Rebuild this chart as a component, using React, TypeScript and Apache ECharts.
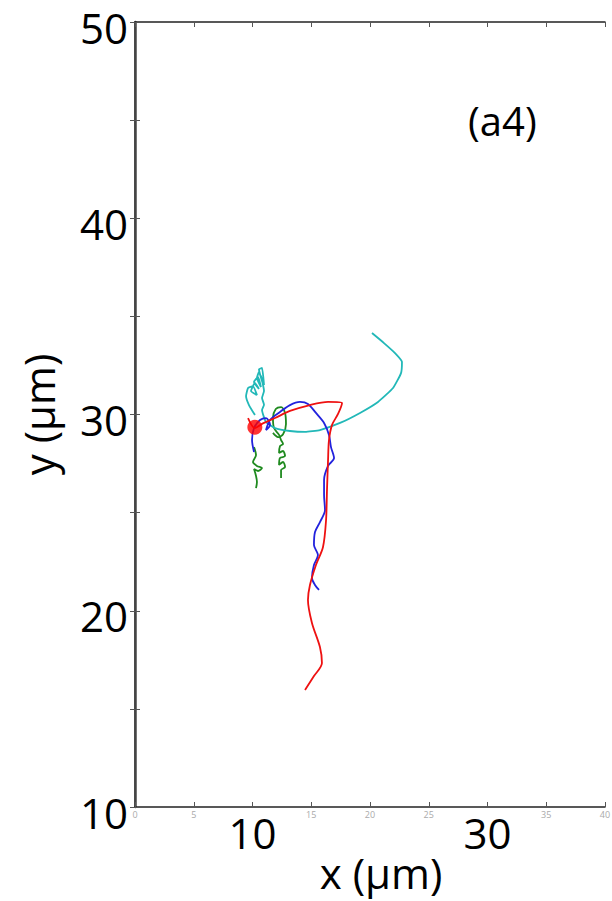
import React, { useEffect, useRef } from "react";
import * as echarts from "echarts";

// axis ticks / labels
const xSmallLabels = [0, 5, 15, 20, 25, 35, 40];
const xBigLabels = [10, 30];
const yBigLabels = [10, 20, 30, 40, 50];

// trajectories (µm)
const redX = [9.62, 10.21, 10.81, 11.91, 13.19, 14.89, 16.43, 17.62, 17.28, 16.77, 16.51, 16.43, 16.34, 16.26, 16.0, 15.4, 14.89, 14.72, 15.06, 15.74, 15.91, 15.23, 14.47];
const redY = [29.82, 29.31, 29.52, 29.82, 30.18, 30.48, 30.64, 30.59, 30.03, 29.47, 28.7, 27.68, 26.15, 24.62, 23.25, 22.33, 21.31, 20.55, 19.38, 18.15, 17.34, 16.67, 15.96];

const blueX = [10.13, 9.96, 10.13, 10.64, 11.15, 11.49, 11.15, 11.49, 12.34, 13.19, 14.04, 14.72, 15.4, 16.09, 16.51, 16.68, 16.94, 16.43, 16.09, 16.09, 16.17, 15.74, 15.32, 15.23, 15.57, 15.23, 15.06, 15.32, 15.66];
const blueY = [28.09, 28.7, 29.31, 29.72, 29.82, 29.47, 29.21, 29.72, 30.13, 30.48, 30.64, 30.54, 30.08, 29.57, 28.96, 28.34, 27.78, 27.38, 26.66, 25.9, 25.13, 24.52, 24.01, 23.35, 22.84, 22.33, 21.67, 21.31, 21.06];

const cyanX = [10.21, 9.7, 9.45, 9.62, 10.04, 10.38, 9.87, 10.21, 10.55, 10.13, 10.47, 10.72, 10.38, 10.55, 10.81, 10.55, 10.81, 10.98, 10.72, 10.98, 10.81, 10.98, 10.81, 11.15, 11.91, 13.19, 14.47, 15.74, 17.45, 19.15, 20.68, 21.96, 22.64, 22.72, 22.13, 21.19, 20.17];
const cyanY = [29.97, 30.48, 30.94, 31.35, 31.45, 30.99, 31.2, 31.61, 31.3, 31.66, 31.91, 31.4, 31.86, 32.17, 31.7, 32.3, 32.37, 31.5, 31.96, 31.2, 30.84, 30.5, 30.23, 29.62, 29.31, 29.16, 29.11, 29.21, 29.57, 30.08, 30.64, 31.35, 32.11, 32.68, 33.13, 33.64, 34.15];

const greenRX = [12.43, 12.43, 12.77, 12.6, 12.26, 12.34, 12.77, 12.6, 12.26, 12.34, 12.6, 12.43, 12.26, 11.83, 11.74, 11.98, 12.43, 12.77, 12.85, 12.6, 12.17, 11.74];
const greenRY = [26.76, 27.17, 27.32, 27.58, 27.43, 27.78, 27.88, 28.14, 28.04, 28.39, 28.5, 28.7, 28.96, 29.31, 29.82, 30.28, 30.38, 30.08, 29.52, 28.99, 28.85, 29.06];

const greenLX = [10.13, 10.3, 10.04, 10.38, 10.81, 10.47, 10.13, 10.3, 10.38, 10.3];
const greenLY = [28.34, 27.93, 27.58, 27.38, 27.27, 27.12, 27.22, 26.87, 26.56, 26.25];

const startX = [10.2];
const startY = [29.35];

const zip = (xs: number[], ys: number[]) => xs.map((x, i) => [x, ys[i]]);

const FONT = "Open Sans";

export default function App() {
  const ref = useRef<HTMLDivElement>(null);
  useEffect(() => {
    document.body.style.margin = "0";
    const chart = echarts.init(ref.current!, null, { renderer: "svg" });
    const line = (name: string, data: number[][], color: string, smooth = 0.3) => ({
      name,
      type: "line",
      data,
      showSymbol: false,
      smooth,
      xAxisIndex: 0,
      yAxisIndex: 0,
      lineStyle: { color, width: 1.8 },
      itemStyle: { color },
      z: 3,
    });
    chart.setOption({
      animation: false,
      backgroundColor: "#ffffff",
      grid: { left: 135, right: 7, top: 22, bottom: 94, show: false, outerBoundsMode: "none" },
      xAxis: [
        {
          type: "value",
          position: "bottom",
          min: 0,
          max: 40,
          interval: 5,
          axisLine: { show: true, lineStyle: { color: "#222", width: 1.5 } },
          axisTick: { show: true, inside: true, length: 5, lineStyle: { color: "#555" } },
          axisLabel: {
            fontSize: 9,
            color: "#aaa",
            margin: 3,
            fontFamily: FONT,
            formatter: (v: number) => (xSmallLabels.includes(v) ? String(v) : ""),
          },
          splitLine: { show: false },
          name: "x (µm)",
          nameLocation: "middle",
          nameGap: 44,
          nameTextStyle: { fontSize: 42, color: "#000", fontFamily: FONT, padding: [0, 0, 0, 22] },
        },
        {
          type: "value",
          position: "bottom",
          min: 0,
          max: 40,
          interval: 10,
          axisLine: { show: false },
          axisTick: { show: false },
          splitLine: { show: false },
          axisLabel: {
            fontSize: 42,
            color: "#000",
            margin: 4,
            fontFamily: FONT,
            formatter: (v: number) => (xBigLabels.includes(v) ? String(v) : ""),
          },
        },
        {
          type: "value",
          position: "top",
          min: 0,
          max: 40,
          interval: 5,
          axisLine: { show: true, lineStyle: { color: "#222", width: 1.5 } },
          axisTick: { show: true, inside: true, length: 5, lineStyle: { color: "#555" } },
          axisLabel: { show: false },
          splitLine: { show: false },
        },
      ],
      yAxis: [
        {
          type: "value",
          position: "left",
          min: 10,
          max: 50,
          interval: 5,
          axisLine: { show: true, lineStyle: { color: "#222", width: 1.5 } },
          axisTick: { show: true, inside: true, length: 5, lineStyle: { color: "#555" } },
          axisLabel: {
            color: "#000",
            margin: 7,
            formatter: (v: number) => (yBigLabels.includes(v) ? "{n|" + v + "}" : ""),
            rich: {
              n: { fontSize: 42, lineHeight: 30, color: "#000", fontFamily: FONT, padding: [10, 0, 0, 0] },
            },
          },
          splitLine: { show: false },
          name: "y (µm)",
          nameLocation: "middle",
          nameGap: 76,
          nameTextStyle: { fontSize: 42, color: "#000", fontFamily: FONT },
        },
        {
          type: "value",
          position: "right",
          min: 10,
          max: 50,
          interval: 5,
          axisLine: { show: true, lineStyle: { color: "#444", width: 2.5 } },
          axisTick: { show: true, inside: true, length: 5, lineStyle: { color: "#555" } },
          axisLabel: { show: false },
          splitLine: { show: false },
        },
      ],
      graphic: [
        {
          type: "text",
          left: 468,
          top: 100,
          style: { text: "(a4)", fontSize: 40, fill: "#000", fontFamily: FONT },
        },
      ],
      series: [
        line("green right", zip(greenRX, greenRY), "#1f8a1f"),
        line("green left", zip(greenLX, greenLY), "#1f8a1f"),
        line("cyan", zip(cyanX, cyanY), "#22b8b8", 0.15),
        line("blue", zip(blueX, blueY), "#2222dd"),
        line("red", zip(redX, redY), "#ee1111"),
        {
          name: "start",
          type: "scatter",
          data: zip(startX, startY),
          symbolSize: 15,
          itemStyle: { color: "#ff0000" },
          xAxisIndex: 0,
          yAxisIndex: 0,
          z: 5,
        },
      ],
    });
    return () => chart.dispose();
  }, []);
  return <div ref={ref} style={{ width: 612, height: 901 }} />;
}
